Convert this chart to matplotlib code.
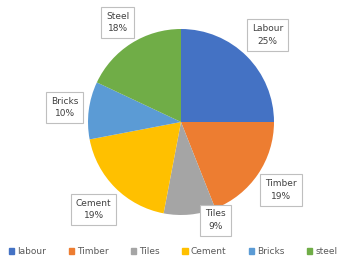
import numpy as np
import matplotlib.pyplot as plt

# data
categories = ["Labour", "Timber", "Tiles", "Cement", "Bricks", "Steel"]
legend_names = ["labour", "Timber", "Tiles", "Cement", "Bricks", "steel"]
shares = [25, 19, 9, 19, 10, 18]

colors = ["#4472C4", "#ED7D31", "#A5A5A5", "#FFC000", "#5B9BD5", "#70AD47"]
label_dist = [1.32, 1.30, 1.12, 1.33, 1.26, 1.27]
label_shift = [0, 0, 14, 0, 0, 0]  # degrees, tiles label is nudged

fig = plt.figure(figsize=(3.56, 2.64), dpi=100)
ax = fig.add_axes([88 / 356, 49 / 264, 186 / 356, 186 / 264])

wedges, _ = ax.pie(shares, colors=colors, startangle=90, counterclock=False,
                   radius=1.0, wedgeprops=dict(linewidth=0))
ax.set_xlim(-1, 1)
ax.set_ylim(-1, 1)
ax.axis("off")

for w, name, val, d, s in zip(wedges, categories, shares, label_dist, label_shift):
    ang = np.deg2rad((w.theta1 + w.theta2) / 2 + s)
    ax.text(d * np.cos(ang), d * np.sin(ang), f"{name}\n{val}%",
            ha="center", va="center", fontsize=6.5, color="#404040",
            linespacing=1.5, clip_on=False,
            bbox=dict(boxstyle="square,pad=0.55", fc="white", ec="#BFBFBF", lw=0.8))

handles = [plt.Rectangle((0, 0), 1, 1, color=c) for c in colors]
fig.legend(handles, legend_names, loc="center left", ncol=6,
           bbox_to_anchor=(9 / 356, 12 / 264), frameon=False,
           fontsize=6.5, handlelength=0.6, handleheight=0.6, handletextpad=0.35,
           columnspacing=2.45, borderaxespad=0, borderpad=0,
           labelcolor="#595959")

fig.savefig("out.png", dpi=100)
